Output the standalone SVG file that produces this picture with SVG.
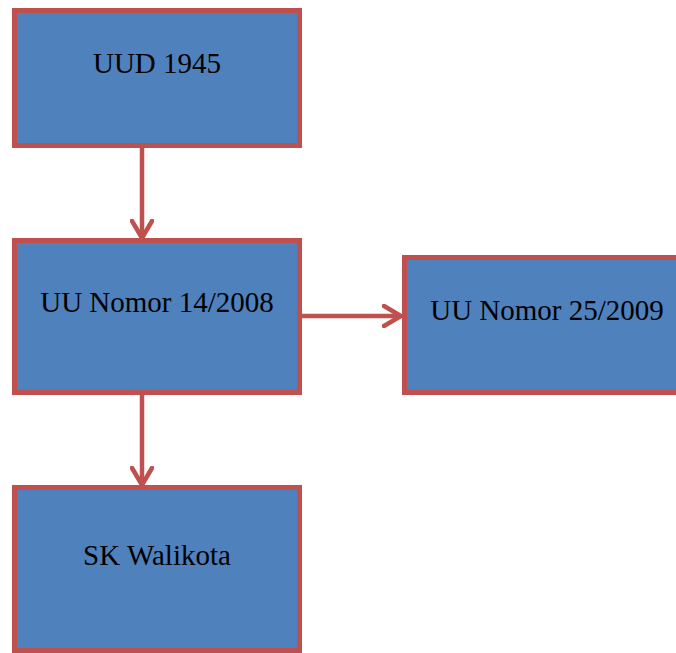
<svg xmlns="http://www.w3.org/2000/svg" width="676" height="653" viewBox="0 0 676 653">
<style>
.box{fill:#4F81BD;stroke:#C0504D;stroke-width:5}
.lbl{font-family:"Liberation Serif","Times New Roman",serif;font-size:29px;fill:#000;text-anchor:middle}
.con{stroke:#C0504D;stroke-width:4.5;fill:none}
</style>
<defs>
<marker id="ah" viewBox="0 0 20 24" refX="19" refY="12" markerWidth="20" markerHeight="24" markerUnits="userSpaceOnUse" orient="auto">
<path d="M2,2 L19,12 L2,22" fill="none" stroke="#C0504D" stroke-width="4.5" stroke-linecap="round" stroke-linejoin="miter"/>
</marker>
</defs>
<rect x="0" y="0" width="676" height="653" fill="#fff"/>
<g id="connectors">
<line class="con" x1="142" y1="148" x2="142" y2="238" marker-end="url(#ah)"/>
<line class="con" x1="302" y1="316" x2="401" y2="316" marker-end="url(#ah)"/>
<line class="con" x1="142" y1="395" x2="142" y2="485" marker-end="url(#ah)"/>
</g>
<g id="uud1945">
<rect class="box" x="14.5" y="10.5" width="285" height="135"/>
<text class="lbl" x="157" y="73">UUD 1945</text>
</g>
<g id="uu14">
<rect class="box" x="14.5" y="240.5" width="285" height="152"/>
<text class="lbl" x="157" y="312">UU Nomor 14/2008</text>
</g>
<g id="uu25">
<rect class="box" x="404.5" y="257.5" width="285" height="135"/>
<text class="lbl" x="547" y="320">UU Nomor 25/2009</text>
</g>
<g id="sk">
<rect class="box" x="14.5" y="487.5" width="285" height="163"/>
<text class="lbl" x="157" y="565">SK Walikota</text>
</g>
</svg>
